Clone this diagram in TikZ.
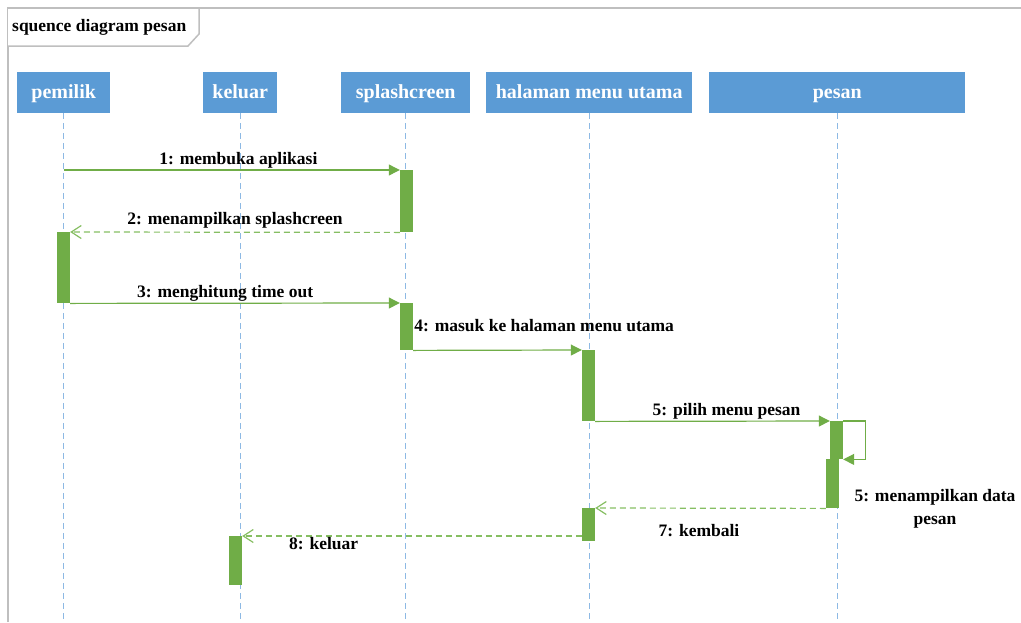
\documentclass[tikz,border=0pt]{standalone}
\usepackage{fontspec}
\setmainfont{Liberation Serif}
\usetikzlibrary{arrows.meta,positioning}
\definecolor{hblue}{HTML}{5B9BD5}
\definecolor{lblue}{HTML}{8DB9E4}
\definecolor{actg}{HTML}{70AD47}
\definecolor{retg}{HTML}{86BE62}
\definecolor{frm}{HTML}{BFBFBF}
\newcommand\hdsize{\fontsize{20}{24}\selectfont\bfseries}
\newcommand\lbsize{\fontsize{17.5}{23}\selectfont\bfseries}

\begin{document}
\begin{tikzpicture}[x=1pt,y=-1pt,
  head/.style={fill=hblue,text=white,font=\hdsize,minimum height=41pt,text height=14pt,text depth=3pt,inner sep=0pt,anchor=north west},
  life/.style={lblue,line width=1pt,dash pattern=on 6pt off 4pt},
  actbar/.style={fill=actg,minimum width=13pt,inner sep=0pt,anchor=north},
  msg/.style={actg,line width=1.2pt,-{Triangle[length=11pt,width=11pt]}},
  ret/.style={retg,line width=1.2pt,dash pattern=on 6pt off 4pt,-{Straight Barb[length=10pt,width=13pt]}},
  mlbl/.style={font=\lbsize,text=black,inner sep=1pt}]
\useasboundingbox (0,0) rectangle (1021,622);
\draw[frm,line width=1.5pt] (8,622) -- (8,8) -- (1021,8);
\draw[frm,line width=1.5pt,fill=white] (8,8) -- (199,8) -- (199,34) -- (188,46) -- (8,46);
\node[font=\lbsize,anchor=west,inner sep=0pt] (title) at (12,27) {squence diagram pesan};
\node[head,minimum width=93pt] (pemilik) at (17,72) {pemilik};
\node[head,minimum width=74pt] (keluar) at (203,72) {keluar};
\node[head,minimum width=129pt] (splash) at (341,72) {splashcreen};
\node[head,minimum width=206pt] (halaman) at (486,72) {halaman menu utama};
\node[head,minimum width=256pt] (pesan) at (709,72) {pesan};
\foreach \h in {pemilik,keluar,splash,halaman,pesan} \draw[life] (\h.south) -- ++(0,509);
\node[actbar,minimum height=62pt] (a1) at (406.5,170) {};
\node[actbar,minimum height=71pt] (a2) at (63.5,232) {};
\node[actbar,minimum height=47pt] (a3) at (406.5,303) {};
\node[actbar,minimum height=71pt] (a4) at (588.5,350) {};
\node[actbar,minimum height=38pt] (a5) at (836.5,421) {};
\node[actbar,minimum height=49pt] (a6) at (832.5,459) {};
\node[actbar,minimum height=33pt] (a7) at (588.5,508) {};
\node[actbar,minimum height=49pt] (a8) at (235.5,536) {};
\coordinate (p1) at (63.5,170);
\draw[msg] (p1) -- node[mlbl,above,pos=.52] (l1) {1: membuka aplikasi} (a1.north west);
\draw[ret] (a1.south west) -- node[mlbl,above,yshift=2pt] (l2) {2: menampilkan splashcreen} (a2.north east);
\draw[msg] (a2.south east) -- node[mlbl,above,pos=.47] (l3) {3: menghitung time out} (a3.north west);
\draw[msg] (a3.south east) -- (a4.north west);
\node[mlbl,anchor=south west,yshift=17pt] (l4) at (a3.south east) {4: masuk ke halaman menu utama};
\draw[msg] (a4.south east) -- node[mlbl,above,pos=.56] (l5) {5: pilih menu pesan} (a5.north west);
\draw[msg] (a5.north east) -- ++(22,0) |- (a5.south east);
\node[mlbl,align=center,anchor=north] (l6) at (935,488) {5: menampilkan data\\pesan};
\draw[ret] (a6.south west) -- node[mlbl,below,pos=.55,yshift=-15pt] (l7) {7: kembali} (a7.north east);
\draw[ret] (a7.west |- a8.north) -- node[mlbl,below,pos=.76] (l8) {8: keluar} (a8.north east);
\end{tikzpicture}
\end{document}
